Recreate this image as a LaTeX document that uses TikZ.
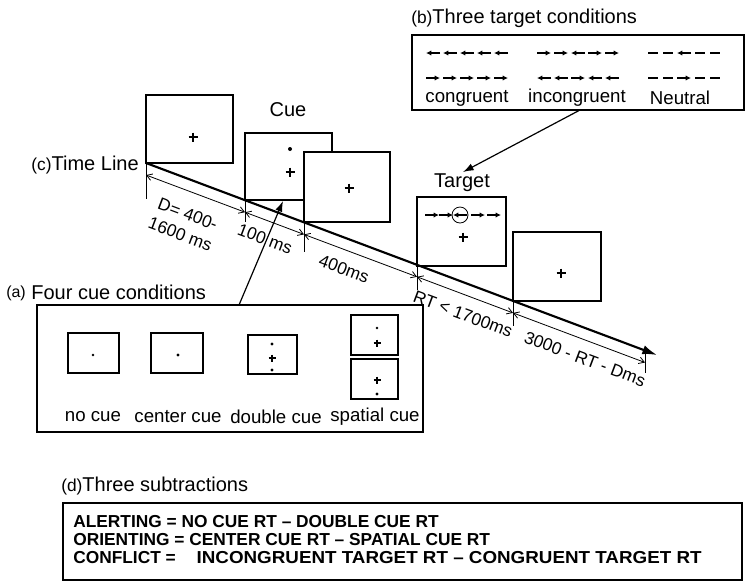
\documentclass[tikz,border=0pt]{standalone}
\usepackage{fontspec}
\usepackage{graphicx}
\setmainfont{Liberation Sans}
\usetikzlibrary{arrows.meta,calc}
\newcommand\scrbox[5]{\node[scr,minimum width=#4*0.75pt,minimum height=#5*0.75pt] (#1) at (#2,#3) {};}
\newcommand\crs[3]{\draw[line width=1pt] (#1-#3,#2) -- (#1+#3,#2) (#1,#2-#3) -- (#1,#2+#3);}
\newcommand\dotat[3]{\fill (#1,#2) circle[radius=#3pt];}
\newcommand\rarr[2]{\draw[glyph] (#1-7,#2) -- (#1+7,#2);}
\newcommand\larr[2]{\draw[glyph] (#1+7,#2) -- (#1-7,#2);}
\newcommand\dsh[2]{\draw[line width=0.8pt] (#1-5,#2) -- (#1+5,#2);}
\begin{document}
\begin{tikzpicture}[x=0.75pt,y=-0.75pt,
  scr/.style={draw,line width=1.3pt,fill=white,anchor=north west,inner sep=0pt,outer sep=0pt},
  frame/.style={draw,line width=1pt,anchor=north west,inner sep=0pt,outer sep=0pt},
  small/.style={draw,line width=1pt,fill=white,anchor=north west,inner sep=0pt,outer sep=0pt},
  glyph/.style={line width=0.8pt,-{Latex[length=4pt,width=4pt]}},
  head/.style={font=\fontsize{15}{17}\selectfont,inner sep=0pt},
  lab/.style={font=\fontsize{14}{16}\selectfont,inner sep=0pt},
  dimlab/.style={font=\fontsize{13}{16}\selectfont,inner sep=0pt,rotate=-20.6},
  dim/.style={line width=0.6pt,{Straight Barb[length=4pt,width=5pt]}-{Straight Barb[length=4pt,width=5pt]}},
  tick/.style={line width=0.6pt},
  pointer/.style={line width=0.9pt,-{Latex[length=8pt,width=5.5pt]}},
  subtr/.style={font=\fontsize{13}{15}\selectfont\bfseries,inner sep=0pt,anchor=west}
]
\useasboundingbox (0,0) rectangle (746,587);

% ---- stimulus screens ----
\scrbox{fixA}{146}{95}{87}{68}
\crs{193}{137}{4.5}
\node[head] (cuelab) at (288,110) {Cue};
\scrbox{cuebox}{245}{133}{87}{67}
\dotat{290}{149}{1.5}
\crs{290}{172}{4.5}
\scrbox{fixB}{304}{152}{86}{70}
\crs{349}{188}{4.5}
\node[head] (tarlab) at (462,183) {Target};
\scrbox{tarbox}{417}{197}{89}{69}
\rarr{432}{215}\rarr{446}{215}\larr{460}{215}\rarr{478}{215}\rarr{494}{215}
\draw[line width=0.6pt] (460,215) circle[radius=6pt];
\crs{463}{237}{4.5}
\scrbox{fixC}{513}{232}{88}{69}
\crs{561}{273}{4.5}

% ---- time line ----
\node[head,anchor=east] (tllab) at (139,165) {{\fontsize{13}{15}\selectfont(c)}Time Line};
\coordinate (tlend) at (657,355);
\draw[line width=1.6pt,-{Latex[length=11pt,width=7pt]}] (fixA.south west) -- (tlend);
\coordinate (d0) at (146,175);
\coordinate (d1) at (245,212.2);
\coordinate (d2) at (304,234.4);
\coordinate (d3) at (417,276.8);
\coordinate (d4) at (513,312.9);
\coordinate (d5) at (645,362.5);
\coordinate (e0) at (146,199);
\coordinate (e1) at (245,222);
\coordinate (e2) at (304,252);
\coordinate (e3) at (417,290);
\coordinate (e4) at (513,326);
\coordinate (e5a) at (645,351);
\coordinate (e5) at (645,373);
\draw[tick] (fixA.south west) -- (e0);
\draw[tick] (cuebox.south west) -- (e1);
\draw[tick] (fixB.south west) -- (e2);
\draw[tick] (tarbox.south west) -- (e3);
\draw[tick] (fixC.south west) -- (e4);
\draw[tick] (e5a) -- (e5);
\draw[dim] (d0) -- (d1);
\draw[dim] (d1) -- (d2);
\draw[dim] (d2) -- (d3);
\draw[dim] (d3) -- (d4);
\draw[dim] (d4) -- (d5);
\node[dimlab,align=center] (l0) at (184,224) {D= 400-\\1600 ms};
\node[dimlab] (l1) at (265,239) {100 ms};
\node[dimlab] (l2) at (344,269) {400ms};
\node[dimlab] (l3) at (463,314) {RT < 1700ms};
\node[dimlab] (l4) at (585,359) {3000 - RT - Dms};

% ---- (b) target conditions ----
\node[head,anchor=west] (blab) at (411,18) {{\fontsize{13}{15}\selectfont(b)}Three target conditions};
\node[frame,minimum width=332*0.75pt,minimum height=75*0.75pt] (bbox) at (412,35) {};
\larr{433}{53}\larr{450}{53}\larr{467}{53}\larr{484}{53}\larr{501}{53}
\rarr{433}{78}\rarr{450}{78}\rarr{467}{78}\rarr{484}{78}\rarr{501}{78}
\rarr{544}{53}\rarr{561}{53}\larr{578}{53}\rarr{595}{53}\rarr{612}{53}
\larr{544}{78}\larr{561}{78}\rarr{578}{78}\larr{595}{78}\larr{612}{78}
\dsh{653}{53}\dsh{668}{53}\larr{684}{53}\dsh{700}{53}\dsh{715}{53}
\dsh{653}{78}\dsh{668}{78}\rarr{684}{78}\dsh{700}{78}\dsh{715}{78}
\node[lab] (congr) at (467,98) {congruent};
\node[lab] (incongr) at (577,98) {incongruent};
\node[lab] (neutr) at (680,98) {Neutral};
\coordinate (bfrom) at (580,110);
\coordinate (bto) at (463,172);
\draw[pointer] (bfrom) -- (bto);

% ---- (a) cue conditions ----
\node[head,anchor=west] (alab) at (6,293) {\raisebox{2pt}{\fontsize{12}{14}\selectfont(a)} Four cue conditions};
\node[frame,fill=white,minimum width=386*0.75pt,minimum height=127*0.75pt] (abox) at (37,305) {};
\node[small,minimum width=51*0.75pt,minimum height=40*0.75pt] (nocue) at (68,333) {};
\dotat{93}{355}{1}
\node[small,minimum width=52*0.75pt,minimum height=40*0.75pt] (centercue) at (151,333) {};
\dotat{178}{355}{1.3}
\node[small,minimum width=49*0.75pt,minimum height=39*0.75pt] (doublecue) at (248,335) {};
\dotat{272}{344}{1.2}
\crs{272}{358}{3.5}
\dotat{272}{370}{1.2}
\node[small,minimum width=47*0.75pt,minimum height=40*0.75pt] (spatialA) at (351,315) {};
\dotat{377}{328}{1.1}
\crs{377}{343}{3.5}
\node[small,minimum width=47*0.75pt,minimum height=40*0.75pt] (spatialB) at (351,359) {};
\crs{377}{380}{3.5}
\dotat{377}{394}{1.2}
\node[lab] (t1) at (93,417) {no cue};
\node[lab] (t2) at (178,417) {center cue};
\node[lab] (t3) at (276,417) {double cue};
\node[lab] (t4) at (375,417) {spatial cue};
\coordinate (afrom) at (239,305);
\coordinate (ato) at (283,201);
\draw[pointer] (afrom) -- (ato);

% ---- (d) subtractions ----
\node[head,anchor=west] (dlab) at (61,486) {{\fontsize{13}{15}\selectfont(d)}Three subtractions};
\node[frame,minimum width=679*0.75pt,minimum height=77*0.75pt] (dbox) at (63,503) {};
\node[subtr] (s1) at (73,522) {ALERTING = NO CUE RT – DOUBLE CUE RT};
\node[subtr] (s2) at (73,540) {ORIENTING = CENTER CUE RT – SPATIAL CUE RT};
\node[subtr] (s3) at (73,558) {CONFLICT =\hspace{1.2em}\scalebox{1.085}[1]{INCONGRUENT TARGET RT – CONGRUENT TARGET RT}};
\end{tikzpicture}
\end{document}
